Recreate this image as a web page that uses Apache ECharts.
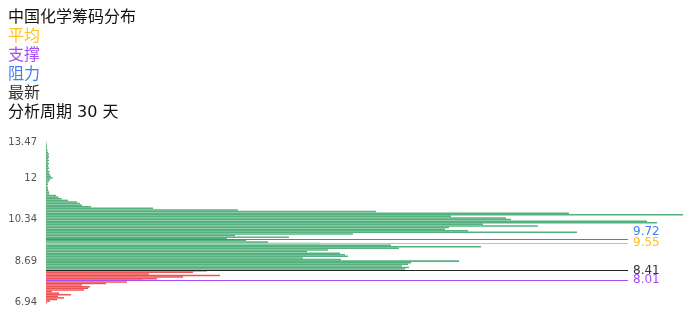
<!DOCTYPE html>
<html><head><meta charset="utf-8">
<script src="https://cdn.jsdelivr.net/npm/echarts@6/dist/echarts.min.js"></script>
<style>html,body{margin:0;padding:0;background:#fff}#c{width:696px;height:320px}</style>
</head><body><div id="c"></div>
<script>
// chip volume per price bin, from the lowest bin (bottom) to the highest (top)
const chipVolume = [
  1, 4, 11, 18, 12, 25, 13, 6, 38, 42,
  44, 36, 60, 81, 97, 111, 137, 174, 103, 147,
  161, 359, 363, 356, 362, 365, 413, 295, 257, 302,
  299, 294, 261, 282, 353, 435, 345, 274, 222, 200,
  181, 243, 189, 307, 531, 422, 399, 403, 492, 437,
  611, 601, 465, 460, 405, 637, 523, 330, 192, 107,
  45, 36, 34, 31, 22, 15.5, 12.5, 10, 3.3, 3,
  2.5, 2, 2, 1, 2, 1.5, 3, 4, 6.5, 5,
  4, 3, 3.5, 2, 3, 2.5, 2, 3, 2, 3,
  2, 3, 2.5, 3, 2, 1.5, 1.2, 1, 1, 0.7,
  0.5
];
const priceRange = [7.03, 13.76];
const tickLabels = ['6.94', '8.69', '10.34', '12', '13.47'];
const latestPrice = 8.41;
const avgPrice = 9.55;
const supportPrice = 8.01;
const resistPrice = 9.72;
const titleText = '中国化学筹码分布';
const legendNames = ['平均', '支撑', '阻力', '最新'];
const periodText = '分析周期 30 天';

const GREEN = '#2a9f5e', RED = '#e8282c';
const YELLOW = '#fbc11d', PURPLE = '#a64cf6', BLUE = '#3f7ff5', DARK = '#222';
const FONT = '"DejaVu Sans", "Noto Sans CJK SC", sans-serif';

const binCount = chipVolume.length;
const binStep = (priceRange[1] - priceRange[0]) / binCount;
const binPrices = chipVolume.map((_, i) => priceRange[0] + i * binStep);
const categories = binPrices.map(p => p.toFixed(3));

const chart = echarts.init(document.getElementById('c'), null, {renderer: 'canvas'});
const rs = (color) => ({fontSize: 16, lineHeight: 19, color: color, fontWeight: 'normal', fontFamily: FONT});
chart.setOption({
  animation: false,
  backgroundColor: '#fff',
  textStyle: {fontFamily: FONT},
  title: {
    left: 3, top: 3,
    text: '{t|' + titleText + '}\n{a|' + legendNames[0] + '}\n{s|' + legendNames[1] + '}\n{r|' + legendNames[2] + '}\n{n|' + legendNames[3] + '}\n{t|' + periodText + '}',
    textStyle: {
      fontFamily: FONT,
      rich: {t: rs('#111'), a: rs(YELLOW), s: rs(PURPLE), r: rs(BLUE), n: rs('#333')}
    }
  },
  grid: {left: 46, right: 68, top: 142, bottom: 16.5},
  xAxis: {type: 'value', min: 0, max: 582, show: false},
  yAxis: [{
    type: 'category',
    data: categories,
    axisLine: {show: false},
    axisTick: {show: false},
    splitLine: {show: false},
    axisLabel: {
      color: '#555', fontSize: 10, margin: 9, fontFamily: FONT,
      interval: (idx) => idx % 26 === 0 || idx === binCount - 1,
      formatter: (v) => {
        const idx = categories.indexOf(v);
        return tickLabels[Math.round(idx / 26)];
      }
    }
  }, {
    type: 'value', min: priceRange[0], max: priceRange[1], show: false
  }],
  series: [{
    type: 'bar',
    yAxisIndex: 0,
    clip: false,
    barCategoryGap: '6%',
    data: chipVolume.map((v, i) => ({
      value: v,
      itemStyle: {color: binPrices[i] <= latestPrice ? RED : GREEN, opacity: 0.8}
    }))
  }, {
    type: 'line',
    yAxisIndex: 1,
    data: [],
    silent: true,
    markLine: {
      symbol: 'none',
      silent: true,
      lineStyle: {type: 'solid', width: 1},
      label: {position: 'end', fontSize: 12, distance: 5, fontFamily: FONT},
      data: [
        {yAxis: resistPrice, lineStyle: {color: BLUE}, label: {color: BLUE, offset: [0, -7]}},
        {yAxis: avgPrice, lineStyle: {color: YELLOW}, label: {color: YELLOW}},
        {yAxis: latestPrice, lineStyle: {color: DARK}, label: {color: '#333'}},
        {yAxis: supportPrice, lineStyle: {color: PURPLE}, label: {color: PURPLE}}
      ]
    }
  }]
});
</script>
</body></html>
